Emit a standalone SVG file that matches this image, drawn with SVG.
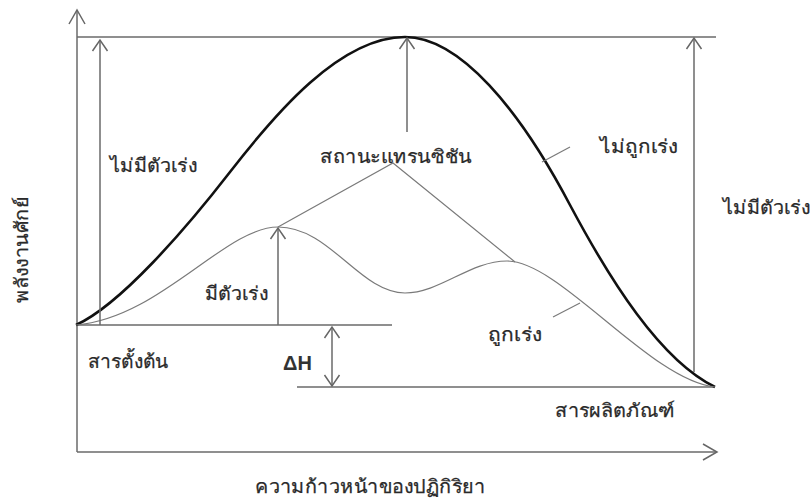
<svg xmlns="http://www.w3.org/2000/svg" width="812" height="504" viewBox="0 0 812 504">
<defs>
<marker id="ah" markerUnits="userSpaceOnUse" markerWidth="20" markerHeight="20" refX="12" refY="8" orient="auto" overflow="visible">
<path d="M1,0.5 L12,8 L1,15.5" fill="none" stroke="#666" stroke-width="1.5"/>
</marker>
<marker id="ahs" markerUnits="userSpaceOnUse" markerWidth="20" markerHeight="20" refX="12" refY="8" orient="auto-start-reverse" overflow="visible">
<path d="M1,0.5 L12,8 L1,15.5" fill="none" stroke="#666" stroke-width="1.5"/>
</marker>
<marker id="axh" markerUnits="userSpaceOnUse" markerWidth="20" markerHeight="20" refX="14" refY="8" orient="auto" overflow="visible">
<path d="M0,0 L14,8 L0,16" fill="none" stroke="#666" stroke-width="1.5"/>
</marker>
</defs>
<style>
.ln{fill:none;stroke:#6a6a6a;stroke-width:1.5}
.thin{fill:none;stroke:#7a7a7a;stroke-width:1.2}
.bold{fill:none;stroke:#111;stroke-width:2.6}
.t{font-family:"Noto Sans","DejaVu Sans","Liberation Sans",sans-serif;font-size:19px;fill:#2a2a2a;stroke:#2a2a2a;stroke-width:0.25}
.dh{font-family:"Liberation Sans",Arial,sans-serif;font-size:20px;font-weight:bold;fill:#333}
</style>
<rect width="812" height="504" fill="#fff"/>
<g id="axes">
<line class="ln" x1="77" y1="452" x2="77" y2="10" marker-end="url(#axh)"/>
<line class="ln" x1="77" y1="452" x2="717" y2="452" marker-end="url(#axh)"/>
</g>
<g id="levels">
<line class="ln" x1="77" y1="37" x2="716" y2="37"/>
<line class="ln" x1="77" y1="325" x2="392" y2="325"/>
<line class="ln" x1="297" y1="387" x2="715" y2="387"/>
</g>
<g id="curves">
<path class="bold" d="M76,325 C120,305 185,230 230,172 C275,114 340,37 405,37 C460,37 520,110 570,205 C610,280 660,360 715,387"/>
<path class="thin" d="M76,325 C160,318 225,227 278,227 C330,227 360,293 405,293 C440,293 470,261 507,261 C560,261 650,380 715,387"/>
</g>
<g id="connectors">
<line class="ln" x1="100" y1="325" x2="100" y2="40" marker-end="url(#ah)"/>
<line class="ln" x1="407" y1="132" x2="407" y2="38" marker-end="url(#ah)"/>
<line class="ln" x1="694" y1="372" x2="694" y2="38" marker-end="url(#ah)"/>
<line class="ln" x1="278" y1="325" x2="278" y2="228" marker-end="url(#ah)"/>
<line class="ln" x1="332" y1="327" x2="332" y2="386" marker-start="url(#ahs)" marker-end="url(#ah)"/>
<polyline class="thin" points="278,227 393,163 515,262"/>
<line class="thin" x1="542" y1="162" x2="570" y2="147"/>
<line class="thin" x1="553" y1="317" x2="580" y2="303"/>
</g>
<g id="labels">
<text class="t" x="110" y="172" textLength="87" lengthAdjust="spacingAndGlyphs">ไม่มีตัวเร่ง</text>
<text class="t" x="320" y="163" textLength="152" lengthAdjust="spacingAndGlyphs">สถานะแทรนซิชัน</text>
<text class="t" x="600" y="153" textLength="78" lengthAdjust="spacingAndGlyphs">ไม่ถูกเร่ง</text>
<text class="t" x="723" y="214" textLength="87" lengthAdjust="spacingAndGlyphs">ไม่มีตัวเร่ง</text>
<text class="t" x="205" y="300" textLength="63" lengthAdjust="spacingAndGlyphs">มีตัวเร่ง</text>
<text class="t" x="88" y="368" textLength="80" lengthAdjust="spacingAndGlyphs">สารตั้งต้น</text>
<text class="dh" x="283" y="370">ΔH</text>
<text class="t" x="488" y="341" textLength="54" lengthAdjust="spacingAndGlyphs">ถูกเร่ง</text>
<text class="t" x="555" y="417" textLength="120" lengthAdjust="spacingAndGlyphs">สารผลิตภัณฑ์</text>
<text class="t" x="255" y="493" textLength="230" lengthAdjust="spacingAndGlyphs">ความก้าวหน้าของปฏิกิริยา</text>
<text class="t" transform="translate(28,303) rotate(-90)" x="0" y="0" textLength="106" lengthAdjust="spacingAndGlyphs">พลังงานศักย์</text>
</g>
</svg>
